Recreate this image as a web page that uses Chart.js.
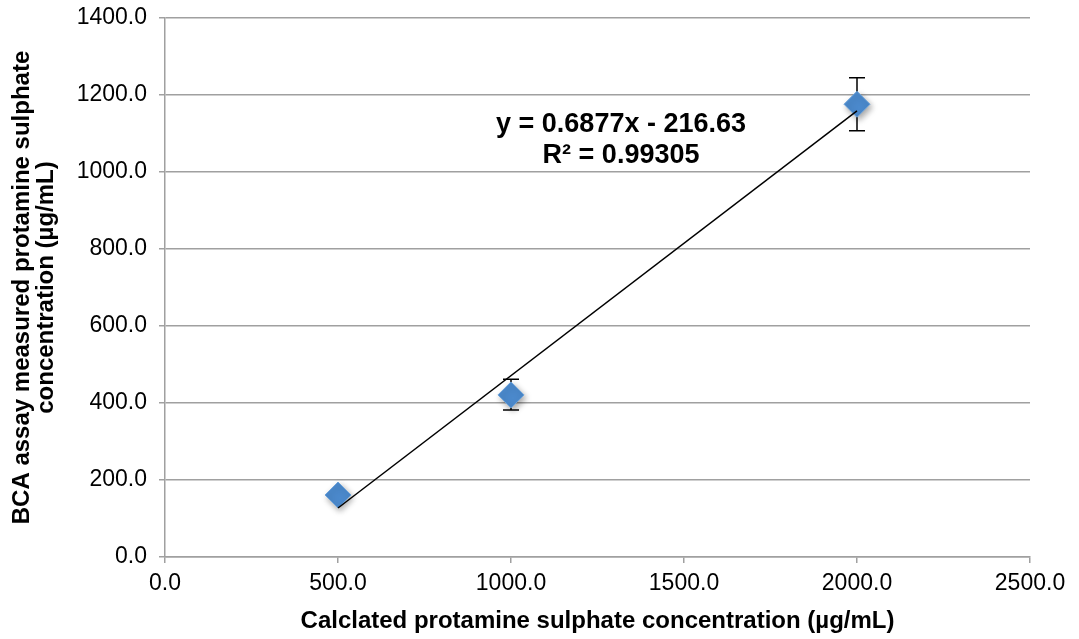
<!DOCTYPE html>
<html>
<head>
<meta charset="utf-8">
<script src="https://cdn.jsdelivr.net/npm/chart.js@4.4.1/dist/chart.umd.min.js"></script>
<style>
  html, body { margin: 0; padding: 0; background: #fff; }
  canvas { display: block; }
</style>
</head>
<body>
<canvas id="chart" width="1079" height="639"></canvas>
<script>
// Calculated vs BCA-measured protamine sulphate (µg/mL)
const calcConc = [500, 1000, 2000];
const measuredConc = [161, 421, 1176];
const errPlus = [8, 41, 69];
const errMinus = [8, 39, 69];

// linear fit printed on the chart
const fitSlope = 0.6877;
const fitIntercept = -216.63;
const fitR2 = 0.99305;
const fitFrom = 500;
const fitTo = 2000;

const xTicks = [0, 500, 1000, 1500, 2000, 2500];
const yTicks = [0, 200, 400, 600, 800, 1000, 1200, 1400];

const FONT = "'Liberation Sans', Arial, Helvetica, sans-serif";
const GRID = '#a0a0a0';

const fitLine = [fitFrom, fitTo].map(v => ({ x: v, y: fitSlope * v + fitIntercept }));
const eqLines = [
  `y = ${fitSlope}x - ${Math.abs(fitIntercept)}`,
  `R² = ${fitR2}`
];

// error bars go under the markers
const errorBars = {
  id: 'errorBars',
  beforeDatasetsDraw(chart) {
    const { ctx, scales: { x, y } } = chart;
    ctx.save();
    ctx.strokeStyle = '#000';
    ctx.lineWidth = 1.5;
    calcConc.forEach((c, i) => {
      const px = x.getPixelForValue(c);
      const top = y.getPixelForValue(measuredConc[i] + errPlus[i]);
      const bot = y.getPixelForValue(measuredConc[i] - errMinus[i]);
      ctx.beginPath();
      ctx.moveTo(px, top); ctx.lineTo(px, bot);
      ctx.moveTo(px - 8, top); ctx.lineTo(px + 8, top);
      ctx.moveTo(px - 8, bot); ctx.lineTo(px + 8, bot);
      ctx.stroke();
    });
    ctx.restore();
  }
};

// soft drop shadow on the diamond markers
const markerShadow = {
  id: 'markerShadow',
  beforeDatasetDraw(chart, args) {
    if (args.index !== 0) return;
    const ctx = chart.ctx;
    ctx.save();
    ctx.shadowColor = 'rgba(0,0,0,0.35)';
    ctx.shadowBlur = 6;
    ctx.shadowOffsetX = 2;
    ctx.shadowOffsetY = 3;
  },
  afterDatasetDraw(chart, args) {
    if (args.index === 0) chart.ctx.restore();
  }
};

// regression equation text
const equation = {
  id: 'equation',
  afterDraw(chart) {
    const { ctx, scales: { x, y } } = chart;
    const cx = x.getPixelForValue(1318);
    const cy = y.getPixelForValue(1122);
    ctx.save();
    ctx.font = `bold 27px ${FONT}`;
    ctx.fillStyle = '#000';
    ctx.textAlign = 'center';
    ctx.textBaseline = 'middle';
    eqLines.forEach((t, i) => ctx.fillText(t, cx, cy + i * 31));
    ctx.restore();
  }
};

new Chart(document.getElementById('chart'), {
  type: 'scatter',
  data: {
    datasets: [
      {
        data: calcConc.map((c, i) => ({ x: c, y: measuredConc[i] })),
        pointStyle: 'rectRot',
        pointRadius: 13,
        backgroundColor: '#4B89CC',
        borderColor: '#6CA2DA',
        borderWidth: 1,
        order: 1
      },
      {
        type: 'line',
        data: fitLine,
        borderColor: '#000',
        borderWidth: 1.5,
        pointRadius: 0,
        fill: false,
        order: 0
      }
    ]
  },
  options: {
    responsive: false,
    devicePixelRatio: 1,
    animation: false,
    layout: { padding: { top: 18, right: 49, left: 0, bottom: 0 } },
    plugins: {
      legend: { display: false },
      tooltip: { enabled: false }
    },
    scales: {
      x: {
        type: 'linear',
        min: 0,
        max: 2500,
        afterBuildTicks: s => { s.ticks = xTicks.map(v => ({ value: v })); },
        afterFit: s => { s.height = 82; s.paddingLeft = 0; s.paddingRight = 0; },
        ticks: {
          callback: v => v.toFixed(1),
          font: { family: FONT, size: 23 },
          color: '#000',
          padding: 7,
          maxRotation: 0
        },
        grid: { drawOnChartArea: false, tickLength: 6, color: GRID, lineWidth: 1.5 },
        border: { color: GRID, width: 1.5 },
        title: {
          display: true,
          text: 'Calclated protamine sulphate concentration (µg/mL)',
          font: { family: FONT, size: 24, weight: 'bold', lineHeight: 1.2 },
          color: '#000',
          padding: { top: 0, bottom: 3 }
        }
      },
      y: {
        min: 0,
        max: 1400,
        afterBuildTicks: s => { s.ticks = yTicks.map(v => ({ value: v })); },
        afterFit: s => { s.width = 165; s.paddingTop = 0; s.paddingBottom = 0; },
        ticks: {
          callback: v => v.toFixed(1),
          font: { family: FONT, size: 23 },
          color: '#000',
          padding: 12
        },
        grid: { tickLength: 6, color: GRID, lineWidth: 1.5 },
        border: { color: GRID, width: 1.5 },
        title: {
          display: true,
          text: ['BCA assay measured protamine sulphate', 'concentration (µg/mL)'],
          font: { family: FONT, size: 24, weight: 'bold', lineHeight: 1.0 },
          color: '#000',
          padding: { top: 10, bottom: 0 }
        }
      }
    }
  },
  plugins: [errorBars, markerShadow, equation]
});
</script>
</body>
</html>
